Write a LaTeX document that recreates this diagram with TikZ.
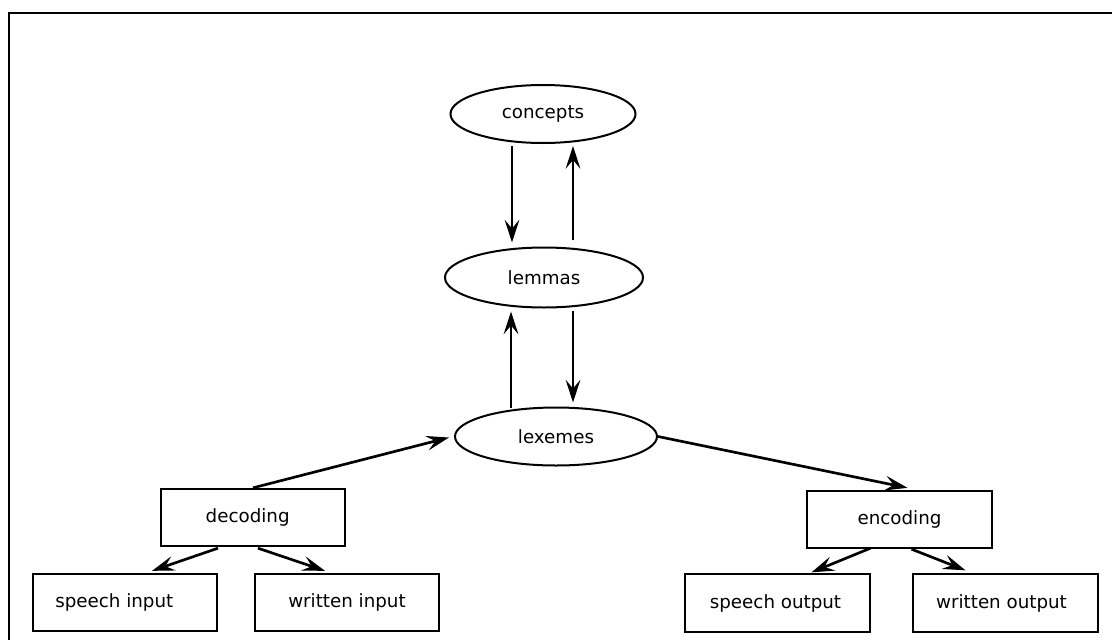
\documentclass[tikz,border=0pt]{standalone}
\usepackage{fontspec}
\setmainfont{DejaVu Sans}
\usetikzlibrary{shapes.geometric,arrows.meta,calc}

\tikzset{
  x=0.75pt, y=-0.75pt,
  every node/.style={font=\fontsize{13.7}{16}\selectfont},
  level/.style={ellipse, draw, line width=1.5pt, inner sep=0pt},
  stage/.style={rectangle, draw, line width=1.5pt, inner sep=0pt,
                minimum width=138.5pt, minimum height=43pt},
  flow/.style={line width=2pt,
               -{Stealth[length=17pt, width=11pt, inset=6.5pt]}},
  frame/.style={draw, line width=1.5pt}
}

\begin{document}
\begin{tikzpicture}
  \useasboundingbox (0,0) rectangle (1112,639);
  \path[frame] (9,13) rectangle (1140,670);

  % levels of the lexicon
  \node[level, minimum width=138.75pt, minimum height=43.5pt] (concepts) at (543,114) {concepts};
  \node[level, minimum width=148.5pt, minimum height=45pt] (lemmas) at (544,277.5) {lemmas};
  \node[level, minimum width=151.5pt, minimum height=43.5pt] (lexemes) at (556,436.5) {lexemes};

  % processing stages (trailing space nudges a label to the left)
  \node[stage] (decoding) at (253,517.5) {decoding\hspace*{8pt}};
  \node[stage] (encoding) at (899.5,519.5) {encoding};
  \node[stage] (speechin) at (125,602.5) {speech input\hspace*{16pt}};
  \node[stage] (writtenin) at (347,602.5) {written input};
  \node[stage] (speechout) at (777.5,603) {speech output\hspace*{3pt}};
  \node[stage] (writtenout) at (1005.5,603) {\raisebox{2pt}{written output}\hspace*{6pt}};

  % vertical links between levels
  \draw[flow] ($(concepts.south)+(-31,2)$) -- ($(lemmas.north)+(-32,-4)$);
  \draw[flow] ($(lemmas.north)+(29,-7)$) -- ($(concepts.south)+(30,2)$);
  \draw[flow] ($(lexemes.north)+(-45,1)$) -- ($(lemmas.south)+(-33,3)$);
  \draw[flow] ($(lemmas.south)+(29,2)$) -- ($(lexemes.north)+(17,-4)$);

  % input and output routes
  \draw[flow] (decoding.north) -- ($(lexemes.west)+(-5,1)$);
  \draw[flow] (lexemes.east) -- ($(encoding.north)+(8,-2)$);
  \draw[flow] ($(decoding.south)+(-35,1)$) -- ($(speechin.north)+(27,-2)$);
  \draw[flow] ($(decoding.south)+(5,1)$) -- ($(writtenin.north)+(-22,-2)$);
  \draw[flow] ($(encoding.south)+(-29,-1)$) -- ($(speechout.north)+(34,-1)$);
  \draw[flow] ($(encoding.south)+(12,0)$) -- ($(writtenout.north)+(-40,-3)$);
\end{tikzpicture}
\end{document}
